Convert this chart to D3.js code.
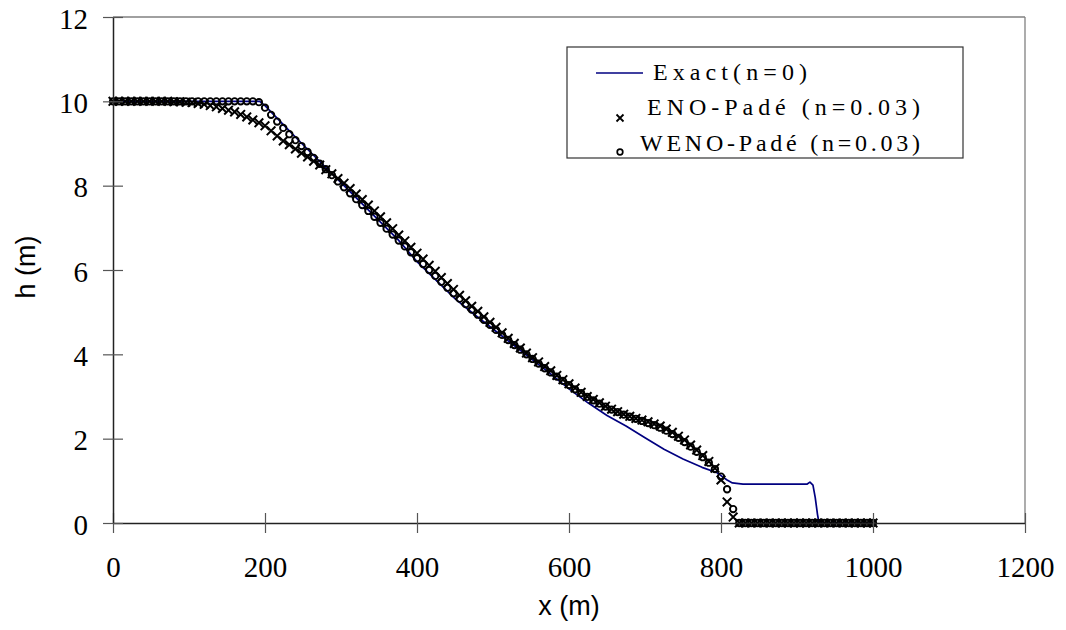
<!DOCTYPE html>
<html>
<head>
<meta charset="utf-8">
<script src="https://cdn.jsdelivr.net/npm/d3@7"></script>
<style>
  html, body { margin: 0; padding: 0; background: #fff; }
  svg { display: block; }
</style>
</head>
<body>
<svg id="chart" width="1066" height="630"></svg>
<script>
// ---------------- data ----------------
const xTicks = [0, 200, 400, 600, 800, 1000, 1200];
const yTicks = [0, 2, 4, 6, 8, 10, 12];

// Exact solution (n=0): x (m), h (m)
const exactX = [0, 193, 200, 225, 250, 275, 300, 325, 350, 375, 400, 425, 450, 475, 500, 525, 550, 575, 600, 625, 650, 675, 700, 725, 750, 775, 795, 808, 815, 829, 913, 917, 921, 924, 927, 929, 1000];
const exactH = [10, 10, 9.9, 9.43, 8.97, 8.52, 8.07, 7.62, 7.17, 6.72, 6.2, 5.76, 5.32, 4.95, 4.6, 4.25, 3.9, 3.55, 3.18, 2.85, 2.55, 2.3, 2.02, 1.75, 1.52, 1.32, 1.19, 1.02, 0.95, 0.92, 0.92, 0.97, 0.9, 0.6, 0.2, 0, 0];

// numerical grid, x (m)
const gridX = d3.range(0, 1001, 8);

// ENO-Padé (n=0.03)
const enoH = [
  10, 10, 10, 10, 10, 10, 10, 10, 10, 10,
  9.99, 9.99, 9.98, 9.97, 9.95, 9.93, 9.9, 9.87, 9.83, 9.79,
  9.75, 9.69, 9.63, 9.56, 9.49, 9.42, 9.3, 9.18, 9.06, 8.97,
  8.87, 8.77, 8.68, 8.58, 8.49, 8.38, 8.28, 8.17, 8.06, 7.93,
  7.8, 7.67, 7.54, 7.4, 7.26, 7.12, 6.98, 6.83, 6.69, 6.54,
  6.4, 6.26, 6.11, 5.97, 5.82, 5.68, 5.54, 5.4, 5.27, 5.14,
  5.02, 4.89, 4.76, 4.64, 4.51, 4.38, 4.26, 4.15, 4.03, 3.92,
  3.82, 3.71, 3.61, 3.5, 3.4, 3.3, 3.2, 3.1, 3.0, 2.93,
  2.85, 2.77, 2.7, 2.64, 2.58, 2.53, 2.48, 2.44, 2.4, 2.35,
  2.3, 2.23, 2.15, 2.06, 1.97, 1.85, 1.73, 1.6, 1.46, 1.3,
  1.02, 0.5, 0.14, 0, 0, 0, 0, 0, 0, 0,
  0, 0, 0, 0, 0, 0, 0, 0, 0, 0,
  0, 0, 0, 0, 0, 0
];

// WENO-Padé (n=0.03)
const wenoH = [
  10, 10, 10, 10, 10, 10, 10, 10, 10, 10,
  10, 10, 10, 10, 10, 10, 10, 10, 10, 10,
  10, 10, 10, 10, 9.98, 9.85, 9.68, 9.52, 9.37, 9.22,
  9.08, 8.94, 8.8, 8.66, 8.52, 8.39, 8.25, 8.1, 7.96, 7.82,
  7.68, 7.54, 7.4, 7.26, 7.12, 6.98, 6.84, 6.7, 6.56, 6.42,
  6.28, 6.14, 6.0, 5.86, 5.72, 5.58, 5.45, 5.32, 5.19, 5.06,
  4.94, 4.82, 4.7, 4.58, 4.46, 4.34, 4.22, 4.11, 4.0, 3.89,
  3.78, 3.67, 3.57, 3.47, 3.37, 3.27, 3.17, 3.08, 2.99, 2.91,
  2.83, 2.76, 2.69, 2.63, 2.57, 2.52, 2.47, 2.42, 2.37, 2.32,
  2.26, 2.19, 2.11, 2.02, 1.92, 1.81, 1.69, 1.56, 1.43, 1.28,
  1.1, 0.8, 0.33, 0, 0, 0, 0, 0, 0, 0,
  0, 0, 0, 0, 0, 0, 0, 0, 0, 0,
  0, 0, 0, 0, 0, 0
];

const legendLabels = ["Exact(n=0)", "ENO-Padé (n=0.03)", "WENO-Padé (n=0.03)"];

// ---------------- drawing ----------------
const svg = d3.select("#chart");
const pLeft = 113, pRight = 1025, pTop = 17, pBottom = 523;

const x = d3.scaleLinear().domain([0, 1200]).range([pLeft, pRight]);
const y = d3.scaleLinear().domain([0, 12]).range([pBottom, pTop]);

const serif = "'Liberation Serif', 'Times New Roman', serif";
const sans = "'Liberation Sans', Arial, sans-serif";

// frame (top and right)
svg.append("line").attr("x1", pLeft).attr("x2", pRight).attr("y1", pTop).attr("y2", pTop)
  .attr("stroke", "#808080").attr("stroke-width", 1.3);
svg.append("line").attr("x1", pRight).attr("x2", pRight).attr("y1", pTop).attr("y2", pBottom)
  .attr("stroke", "#808080").attr("stroke-width", 1.3);

// exact line
const exactData = exactX.map((d, i) => [d, exactH[i]]);
svg.append("path")
  .datum(exactData)
  .attr("fill", "none")
  .attr("stroke", "#000080")
  .attr("stroke-width", 1.7)
  .attr("stroke-linejoin", "round")
  .attr("d", d3.line().x(d => x(d[0])).y(d => y(d[1])));

// ENO markers (x)
const cross = 4.3;
const crossPath = (cx, cy, s) => `M${cx - s},${cy - s}L${cx + s},${cy + s}M${cx - s},${cy + s}L${cx + s},${cy - s}`;
svg.append("g").selectAll("path")
  .data(gridX.map((d, i) => [d, enoH[i]]))
  .join("path")
  .attr("d", d => crossPath(x(d[0]), y(d[1]), cross))
  .attr("stroke", "#000").attr("stroke-width", 2).attr("fill", "none");

// WENO markers (o)
svg.append("g").selectAll("circle")
  .data(gridX.map((d, i) => [d, wenoH[i]]))
  .join("circle")
  .attr("cx", d => x(d[0]))
  .attr("cy", d => y(d[1]))
  .attr("r", 3.2)
  .attr("fill", "none")
  .attr("stroke", "#000")
  .attr("stroke-width", 1.9);

// axes
const xAxis = svg.append("g").attr("transform", `translate(0,${pBottom})`)
  .call(d3.axisBottom(x).tickValues(xTicks).tickSizeInner(10).tickSizeOuter(0).tickFormat(d3.format("d")));
xAxis.select(".domain").attr("stroke", "#222").attr("stroke-width", 1.5);
xAxis.selectAll(".tick line").attr("y1", -10).attr("y2", 10).attr("stroke", "#555").attr("stroke-width", 1.2);
xAxis.selectAll(".tick text").attr("dy", null).attr("y", 54)
  .attr("font-family", serif).attr("font-size", 29).attr("fill", "#000");

const yAxis = svg.append("g").attr("transform", `translate(${pLeft},0)`)
  .call(d3.axisLeft(y).tickValues(yTicks).tickSizeInner(10).tickSizeOuter(0).tickFormat(d3.format("d")));
yAxis.select(".domain").attr("stroke", "#222").attr("stroke-width", 1.5);
yAxis.selectAll(".tick line").attr("x1", 10).attr("x2", -10).attr("stroke", "#555").attr("stroke-width", 1.2);
yAxis.selectAll(".tick text").attr("dy", null).attr("y", 11).attr("x", -25)
  .attr("font-family", serif).attr("font-size", 29).attr("fill", "#000");

// axis titles
svg.append("text").attr("x", 569).attr("y", 615).attr("text-anchor", "middle")
  .attr("font-family", sans).attr("font-size", 27).text("x (m)");
svg.append("text").attr("transform", "translate(35,267) rotate(-90)").attr("text-anchor", "middle")
  .attr("font-family", sans).attr("font-size", 27).text("h (m)");

// legend
const lg = svg.append("g");
lg.append("rect").attr("x", 567).attr("y", 47).attr("width", 396).attr("height", 111)
  .attr("fill", "#fff").attr("stroke", "#333").attr("stroke-width", 1.2);
lg.append("line").attr("x1", 596).attr("x2", 643).attr("y1", 73).attr("y2", 73)
  .attr("stroke", "#000080").attr("stroke-width", 1.7);
lg.append("path").attr("d", crossPath(620, 118, 3.5))
  .attr("stroke", "#000").attr("stroke-width", 1.8);
lg.append("circle").attr("cx", 620).attr("cy", 152).attr("r", 2.8)
  .attr("fill", "none").attr("stroke", "#000").attr("stroke-width", 1.7);
const legPos = [[653, 80, 154], [647, 115, 273], [640, 151, 280]];
legendLabels.forEach((t, i) => {
  lg.append("text").attr("x", legPos[i][0]).attr("y", legPos[i][1])
    .attr("font-family", serif).attr("font-size", 24)
    .attr("textLength", legPos[i][2]).attr("lengthAdjust", "spacing")
    .text(t);
});
</script>
</body>
</html>
